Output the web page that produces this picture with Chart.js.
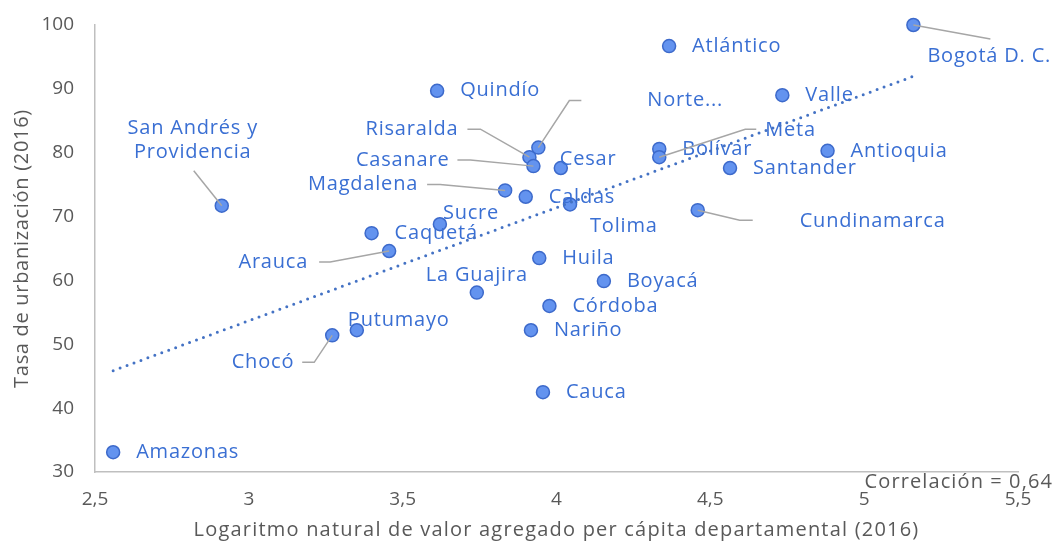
<!DOCTYPE html>
<html>
<head>
<meta charset="utf-8">
<script src="https://cdn.jsdelivr.net/npm/chart.js@4.4.0/dist/chart.umd.min.js"></script>
<style>
    html, body { margin: 0; padding: 0; background: #ffffff; }
    #wrap { width: 1056px; height: 542px; }
</style>
</head>
<body>
<div id="wrap"><canvas id="chart"></canvas></div>
<script>
// departamentos, valores
const departments = [
    'Amazonas', 'San Andrés y Providencia', 'Chocó', 'Putumayo', 'Caquetá', 'Arauca',
    'Sucre', 'Quindío', 'La Guajira', 'Magdalena', 'Caldas', 'Risaralda', 'Casanare',
    'Norte de Santander', 'Cesar', 'Tolima', 'Huila', 'Boyacá', 'Córdoba', 'Nariño',
    'Cauca', 'Atlántico', 'Bolívar', 'Meta', 'Santander', 'Valle', 'Antioquia',
    'Cundinamarca', 'Bogotá D. C.'
];
const shownNames = [
    'Amazonas', 'San Andrés y\nProvidencia', 'Chocó', 'Putumayo', 'Caquetá', 'Arauca',
    'Sucre', 'Quindío', 'La Guajira', 'Magdalena', 'Caldas', 'Risaralda', 'Casanare',
    'Norte...', 'Cesar', 'Tolima', 'Huila', 'Boyacá', 'Córdoba', 'Nariño',
    'Cauca', 'Atlántico', 'Bolívar', 'Meta', 'Santander', 'Valle', 'Antioquia',
    'Cundinamarca', 'Bogotá D. C.'
];
const logValueAdded = [
    2.559, 2.912, 3.271, 3.351, 3.399, 3.456,
    3.621, 3.612, 3.741, 3.833, 3.900, 3.912, 3.925,
    3.941, 4.014, 4.044, 3.944, 4.154, 3.977, 3.917,
    3.956, 4.366, 4.334, 4.334, 4.564, 4.734, 4.881,
    4.459, 5.160
];
const urbanization = [
    33.1, 71.7, 51.4, 52.2, 67.4, 64.6,
    68.8, 89.7, 58.1, 74.1, 73.1, 79.3, 77.9,
    80.8, 77.6, 71.9, 63.5, 59.9, 56.0, 52.2,
    42.5, 96.7, 80.6, 79.3, 77.6, 89.0, 80.3,
    71.0, 100.0
];
const xTickLabels = ['2,5', '3', '3,5', '4', '4,5', '5', '5,5'];
const yTickLabels = ['30', '40', '50', '60', '70', '80', '90', '100'];
const xTitle = 'Logaritmo natural de valor agregado per cápita departamental (2016)';
const yTitle = 'Tasa de urbanización (2016)';
const correlationText = 'Correlación = 0,64';

// posición de etiquetas respecto al punto (px) y líneas guía
const labelLayout = {
    'San Andrés y Providencia': {dx: -29, dy: -65, align: 'center', leader: [[-28, -35]]},
    'Chocó': {dx: -38, dy: 27, align: 'right', leader: [[-18, 27], [-30, 27]]},
    'Putumayo': {dx: -9, dy: -10},
    'Arauca': {dx: -81, dy: 11, align: 'right', leader: [[-59, 11], [-70, 11]]},
    'Sucre': {dx: 3, dy: -11},
    'La Guajira': {dx: 0, dy: -17, align: 'center'},
    'Magdalena': {dx: -87, dy: -6, align: 'right', leader: [[-65, -6], [-78, -6]]},
    'Caldas': {dy: 1},
    'Risaralda': {dx: -71, dy: -28, align: 'right', leader: [[-49, -28], [-62, -28]]},
    'Casanare': {dx: -84, dy: -6, align: 'right', leader: [[-63, -6], [-76, -6]]},
    'Norte de Santander': {dx: 109, dy: -47, leader: [[31, -47], [43, -47]]},
    'Cesar': {dx: -1, dy: -9},
    'Tolima': {dx: 20, dy: 22},
    'Meta': {dx: 106, dy: -27, leader: [[86, -28], [97, -28]]},
    'Cundinamarca': {dx: 102, dy: 11, leader: [[42, 10], [55, 10]]},
    'Bogotá D. C.': {dx: 14, dy: 31, leader: [[77, 14]]}
};

const blue = '#3A6FD3';
const gray = '#595959';

// recta de tendencia por mínimos cuadrados
const n = logValueAdded.length;
const meanX = logValueAdded.reduce((a, b) => a + b, 0) / n;
const meanY = urbanization.reduce((a, b) => a + b, 0) / n;
let sxy = 0, sxx = 0;
for (let i = 0; i < n; i++) {
    sxy += (logValueAdded[i] - meanX) * (urbanization[i] - meanY);
    sxx += (logValueAdded[i] - meanX) ** 2;
}
const slope = sxy / sxx;
const minX = Math.min(...logValueAdded);
const maxX = Math.max(...logValueAdded);
const trend = [minX, maxX].map(x => ({x: x, y: meanY + slope * (x - meanX)}));

function spacedText(ctx, text, x, y, font, spacing, align, color) {
    ctx.font = font;
    ctx.letterSpacing = spacing;
    ctx.fillStyle = color;
    ctx.textAlign = align;
    ctx.textBaseline = 'middle';
    ctx.fillText(text, x, y);
}

const labelPlugin = {
    id: 'deptLabels',
    afterDatasetDraw(chart, args) {
        if (args.index !== 1) return;
        const ctx = chart.ctx;
        const xs = chart.scales.x;
        const ys = chart.scales.y;
        ctx.save();
        departments.forEach((name, i) => {
            const px = xs.getPixelForValue(logValueAdded[i]);
            const py = ys.getPixelForValue(urbanization[i]);
            const lay = Object.assign({dx: 23, dy: 0, align: 'left'}, labelLayout[name] || {});
            if (lay.leader) {
                ctx.beginPath();
                ctx.moveTo(px, py);
                lay.leader.forEach(([lx, ly]) => ctx.lineTo(px + lx, py + ly));
                ctx.strokeStyle = '#A6A6A6';
                ctx.lineWidth = 1.5;
                ctx.stroke();
            }
            const lines = shownNames[i].split('\n');
            lines.forEach((t, k) => {
                spacedText(ctx, t, px + lay.dx, py + lay.dy + (k - (lines.length - 1) / 2) * 24,
                    "20px 'Open Sans'", '0.8px', lay.align, blue);
            });
        });
        ctx.restore();
    },
    afterDraw(chart) {
        const ctx = chart.ctx;
        const area = chart.chartArea;
        ctx.save();
        spacedText(ctx, correlationText, chart.width - 3, 482, "20px 'Open Sans'", '1.1px', 'right', gray);
        spacedText(ctx, xTitle, (area.left + area.right) / 2, 530, "20px 'Open Sans'", '1.2px', 'center', gray);
        ctx.translate(22, (area.top + area.bottom) / 2);
        ctx.rotate(-Math.PI / 2);
        spacedText(ctx, yTitle, 0, 0, "20px 'Open Sans'", '0.7px', 'center', gray);
        ctx.restore();
    }
};

Chart.defaults.font.family = "'Open Sans', sans-serif";

new Chart(document.getElementById('chart'), {
    data: {
        datasets: [{
            type: 'line',
            data: trend,
            borderColor: '#4472C4',
            borderWidth: 3,
            borderDash: [0, 7.4],
            borderCapStyle: 'round',
            pointRadius: 0,
            fill: false
        }, {
            type: 'scatter',
            data: logValueAdded.map((x, i) => ({x: x, y: urbanization[i]})),
            backgroundColor: '#6393EF',
            borderColor: '#3D6ACB',
            pointRadius: 6.5,
            pointBorderWidth: 1.5,
            pointHoverRadius: 6.5,
            clip: false
        }]
    },
    options: {
        responsive: true,
        maintainAspectRatio: false,
        animation: false,
        events: [],
        layout: {padding: {top: 25, right: 38, left: 0, bottom: 0}},
        plugins: {legend: {display: false}, tooltip: {enabled: false}},
        scales: {
            x: {
                type: 'linear',
                min: 2.5,
                max: 5.5,
                grid: {display: false, drawTicks: false},
                border: {display: true, color: '#BFBFBF', width: 1.5},
                ticks: {
                    stepSize: 0.5,
                    color: gray,
                    font: {size: 19},
                    padding: 16,
                    callback: (v, i) => xTickLabels[i]
                },
                afterFit(scale) {
                    scale.height = 70;
                    scale.paddingLeft = 0;
                    scale.paddingRight = 0;
                }
            },
            y: {
                type: 'linear',
                min: 30,
                max: 100,
                grid: {display: false, drawTicks: false},
                border: {display: true, color: '#BFBFBF', width: 1.5},
                ticks: {
                    stepSize: 10,
                    color: gray,
                    font: {size: 19},
                    padding: 21,
                    callback: (v, i) => yTickLabels[i]
                },
                afterFit(scale) {
                    scale.width = 95;
                    scale.paddingTop = 0;
                    scale.paddingBottom = 0;
                }
            }
        }
    },
    plugins: [labelPlugin]
});
</script>
</body>
</html>
